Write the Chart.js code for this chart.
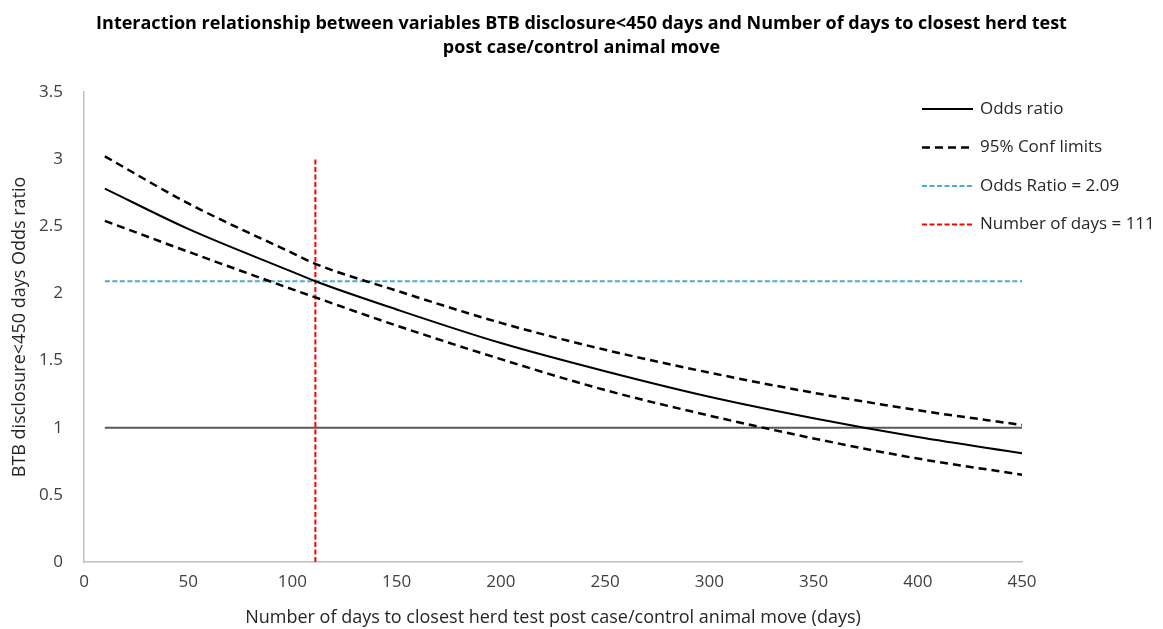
<!DOCTYPE html>
<html>
<head>
<meta charset="utf-8">
<script src="https://cdn.jsdelivr.net/npm/chart.js@4.4.1/dist/chart.umd.min.js"></script>
<style>
  html, body { margin: 0; padding: 0; background: #fff; }
  #wrap { width: 1163px; height: 629px; }
</style>
</head>
<body>
<div id="wrap"><canvas id="orChart"></canvas></div>
<script>
// values
const days = [10, 50, 100, 111, 150, 200, 250, 300, 350, 400, 450];
const oddsRatio = [2.78, 2.48, 2.16, 2.09, 1.88, 1.63, 1.42, 1.23, 1.07, 0.93, 0.81];
const upperLimit = [3.02, 2.67, 2.30, 2.22, 2.02, 1.78, 1.58, 1.41, 1.26, 1.13, 1.02];
const lowerLimit = [2.54, 2.31, 2.03, 1.97, 1.76, 1.51, 1.28, 1.09, 0.92, 0.77, 0.65];

const refOdds = 2.09;
const refDays = 111;
const nullOdds = 1;
const refDaysTop = 3;
const xRange = [10, 450];

const titleLines = ["Interaction relationship between variables BTB disclosure<450 days and Number of days to closest herd test",
                    "post case/control animal move"];

function pts(xs, ys) {
        return xs.map((x, i) => ({ x: x, y: ys[i] }));
}

// legend drawn inside the plot, top right, like the original
const sideLegend = {
        id: "sideLegend",
        afterDatasetsDraw(chart) {
                const ctx = chart.ctx;
                let y = 109;
                chart.data.datasets.forEach(ds => {
                        if (!ds.legendText) return;
                        ctx.save();
                        ctx.strokeStyle = ds.borderColor;
                        ctx.lineWidth = ds.borderWidth;
                        ctx.setLineDash(ds.borderDash || []);
                        ctx.beginPath();
                        ctx.moveTo(922, y);
                        ctx.lineTo(973, y);
                        ctx.stroke();
                        ctx.setLineDash([]);
                        ctx.fillStyle = "#262626";
                        ctx.font = "17px 'Open Sans'";
                        ctx.textBaseline = "middle";
                        ctx.fillText(ds.legendText, 980, y);
                        ctx.restore();
                        y += 38.5;
                });
        }
};

const ctx = document.getElementById("orChart").getContext("2d");
new Chart(ctx, {
        type: "scatter",
        data: {
                datasets: [
                        {
                                legendText: "Odds ratio",
                                data: pts(days, oddsRatio),
                                borderColor: "#000000",
                                borderWidth: 2,
                                cubicInterpolationMode: "monotone"
                        },
                        {
                                legendText: "95% Conf limits",
                                data: pts(days, upperLimit),
                                borderColor: "#000000",
                                borderWidth: 2.5,
                                borderDash: [8, 5],
                                cubicInterpolationMode: "monotone"
                        },
                        {
                                data: pts(days, lowerLimit),
                                borderColor: "#000000",
                                borderWidth: 2.5,
                                borderDash: [8, 5],
                                cubicInterpolationMode: "monotone"
                        },
                        {
                                legendText: "Odds Ratio = 2.09",
                                data: pts(xRange, [refOdds, refOdds]),
                                borderColor: "#4bacc6",
                                borderWidth: 2,
                                borderDash: [5, 2.5]
                        },
                        {
                                legendText: "Number of days = 111",
                                data: [{ x: refDays, y: 0 }, { x: refDays, y: refDaysTop }],
                                borderColor: "#ff0000",
                                borderWidth: 2,
                                borderDash: [5, 2.5]
                        },
                        {
                                data: pts(xRange, [nullOdds, nullOdds]),
                                borderColor: "#595959",
                                borderWidth: 2
                        }
                ]
        },
        options: {
                responsive: true,
                maintainAspectRatio: false,
                animation: false,
                showLine: true,
                elements: { point: { radius: 0, hoverRadius: 0 } },
                plugins: {
                        legend: { display: false },
                        tooltip: { enabled: false },
                        title: {
                                display: true,
                                text: titleLines,
                                color: "#000000",
                                font: { family: "'Open Sans'", size: 18, weight: "bold", lineHeight: 1.33 },
                                padding: { top: 12, bottom: 32 }
                        }
                },
                scales: {
                        x: {
                                type: "linear",
                                min: 0,
                                max: 450,
                                afterFit: s => { s.height = 67; },
                                ticks: { stepSize: 50, color: "#404040", padding: 10, font: { family: "'Open Sans'", size: 17 } },
                                grid: { display: false, drawTicks: false },
                                border: { color: "#bfbfbf", width: 1.5 },
                                title: {
                                        display: true,
                                        text: "Number of days to closest herd test post case/control animal move (days)",
                                        color: "#262626",
                                        font: { family: "'Open Sans'", size: 18 },
                                        padding: { top: 0, bottom: 0 }
                                }
                        },
                        y: {
                                min: 0,
                                max: 3.5,
                                afterFit: s => { s.width = 84; },
                                ticks: {
                                        stepSize: 0.5,
                                        color: "#404040",
                                        padding: 21,
                                        font: { family: "'Open Sans'", size: 17 },
                                        callback: v => String(v)
                                },
                                grid: { display: false, drawTicks: false },
                                border: { color: "#bfbfbf", width: 1.5 },
                                title: {
                                        display: true,
                                        text: "BTB disclosure<450 days Odds ratio",
                                        color: "#262626",
                                        font: { family: "'Open Sans'", size: 18 },
                                        padding: { top: 9, bottom: 0 }
                                }
                        },
                        // empty strip on the right so the title centres on the whole picture
                        side: {
                                position: "right",
                                min: 0,
                                max: 1,
                                afterFit: s => { s.width = 141; },
                                ticks: { display: false },
                                grid: { display: false, drawTicks: false },
                                border: { display: false }
                        }
                }
        },
        plugins: [sideLegend]
});
</script>
</body>
</html>
